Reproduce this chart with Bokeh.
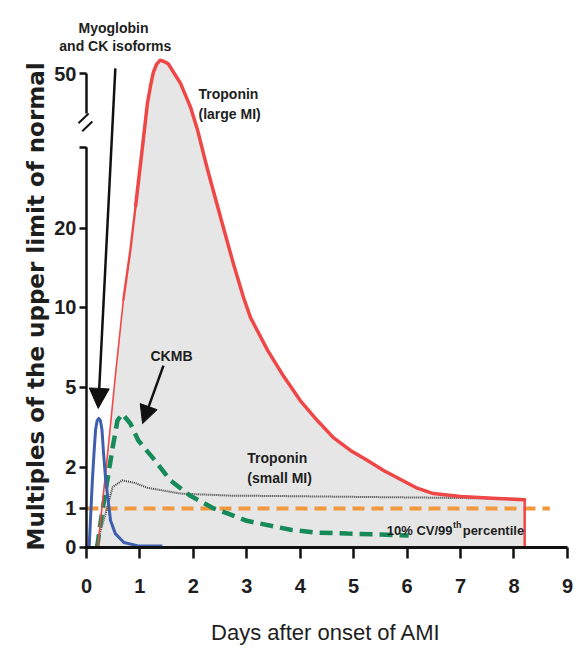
import numpy as np
from bokeh.plotting import figure
from bokeh.models import FixedTicker, Label, Arrow, NormalHead
from bokeh.embed import file_html
from bokeh.resources import INLINE

# ---- broken, non-linear y axis: value -> drawing position ----
scale_vals = [0, 1, 2, 5, 10, 20, 50, 100]
scale_pos = [0, 0.97, 2, 4, 6, 7.97, 11.84, 18.29]
y_tick_vals = [0, 1, 2, 5, 10, 20, 50]
x_ticks = [0, 1, 2, 3, 4, 5, 6, 7, 8, 9]


def ypos(v):
    return np.interp(np.asarray(v, dtype=float), scale_vals, scale_pos)


# ---- data (days after onset, multiples of upper limit of normal) ----
trop_large_days = [0.21, 0.36, 0.45, 0.54, 0.69, 0.82, 0.92, 1.04, 1.14, 1.20, 1.25, 1.31,
                   1.38, 1.46, 1.53, 1.76, 1.95, 2.08, 2.26, 2.51, 2.75, 2.94, 3.07, 3.39,
                   3.69, 4.00, 4.32, 4.62, 4.94, 5.26, 5.56, 5.88, 6.19, 6.49, 7.00, 7.69,
                   8.20]
trop_large_vals = [0.0, 1.89, 3.6, 5.7, 10.9, 17.2, 24.4, 35.1, 44.2, 47.7, 50.2, 51.8,
                   52.6, 52.3, 51.9, 48.1, 43.4, 39.0, 31.6, 22.1, 15.5, 11.2, 9.35, 7.3,
                   5.68, 4.5, 3.75, 3.11, 2.63, 2.25, 1.92, 1.70, 1.49, 1.36, 1.29, 1.24,
                   1.21]

trop_small_days = [0.17, 0.36, 0.49, 0.67, 0.90, 1.14, 1.76, 2.70, 3.60, 5.00, 6.50, 8.20]
trop_small_vals = [0.0, 0.87, 1.52, 1.68, 1.62, 1.50, 1.36, 1.31, 1.30, 1.28, 1.26, 1.23]

ckmb_days = [0.20, 0.26, 0.36, 0.49, 0.58, 0.67, 0.82, 0.97, 1.25, 1.57, 1.94, 2.38, 2.64,
             3.00, 3.60, 3.82, 4.25, 4.88, 5.50, 6.03]
ckmb_vals = [0.0, 0.61, 1.44, 2.74, 3.75, 4.0, 3.64, 3.0, 2.33, 1.68, 1.31, 1.0, 0.87,
             0.68, 0.51, 0.45, 0.38, 0.35, 0.33, 0.30]

myo_days = [0.05, 0.11, 0.14, 0.17, 0.20, 0.23, 0.26, 0.29, 0.32, 0.36, 0.45, 0.54, 0.70,
            0.95, 1.42]
myo_vals = [0.0, 1.68, 2.51, 3.4, 3.75, 3.83, 3.75, 3.4, 2.51, 1.68, 0.69, 0.35, 0.12,
            0.04, 0.03]

cutoff_days = [0.0, 8.67]
cutoff_vals = [1.0, 1.0]

SANS = "'Liberation Sans', Arial, sans-serif"
TXT = "#1e1e1e"
AX = "#111111"
RED = "#ef4646"

p = figure(width=578, height=654, x_range=(-1.609, 9.207), y_range=(-2.6825, 13.6675),
           output_backend="svg", toolbar_location=None, title=None,
           min_border_left=0, min_border_right=0, min_border_top=0, min_border_bottom=0)
p.outline_line_color = None
p.xgrid.grid_line_color = None
p.ygrid.grid_line_color = None
p.background_fill_color = "white"
p.border_fill_color = "white"

# gray area under the large-MI troponin curve
p.varea(x=trop_large_days, y1=np.zeros(len(trop_large_days)), y2=ypos(trop_large_vals),
        fill_color="#e6e6e6")

# orange cutoff line
p.line(cutoff_days, ypos(cutoff_vals), line_color="#f2973d", line_width=4, line_dash="12 7")

# small MI troponin (dotted)
p.line(trop_small_days, ypos(trop_small_vals), line_color="#3c3c3c", line_width=2,
       line_dash="1 1")

# CKMB (green dashed)
p.line(ckmb_days, ypos(ckmb_vals), line_color="#178a5a", line_width=4.5, line_dash="13 7")

# large MI troponin (red): thin rising flank, thicker remainder, drop at the end
p.line(trop_large_days[:5], ypos(trop_large_vals[:5]), line_color=RED, line_width=1.6)
p.line(trop_large_days[4:7], ypos(trop_large_vals[4:7]), line_color=RED, line_width=2.4,
       line_cap="round")
p.line(trop_large_days[6:], ypos(trop_large_vals[6:]), line_color=RED, line_width=3.5,
       line_join="round", line_cap="round")
p.line([trop_large_days[-1], trop_large_days[-1]], [float(ypos(trop_large_vals[-1])), 0],
       line_color=RED, line_width=2.5)

# myoglobin (blue)
p.line(myo_days, ypos(myo_vals), line_color="#3f5fae", line_width=3, line_join="round")

# ---- x axis (placed at y = 0) ----
xa = p.xaxis[0]
xa.fixed_location = 0
xa.bounds = (-0.03, 9)
xa.ticker = FixedTicker(ticks=x_ticks)
xa.axis_line_width = 3
xa.axis_line_color = AX
xa.major_tick_line_width = 2.5
xa.major_tick_line_color = AX
xa.major_tick_out = 11
xa.major_tick_in = 0
xa.minor_tick_line_color = None
xa.major_label_text_font = SANS
xa.major_label_text_font_style = "bold"
xa.major_label_text_font_size = "20px"
xa.major_label_text_color = TXT
xa.major_label_standoff = 21
xa.axis_label = "Days after onset of AMI"
xa.axis_label_text_font = SANS
xa.axis_label_text_font_style = "normal"
xa.axis_label_text_font_size = "22px"
xa.axis_label_text_color = TXT
xa.axis_label_standoff = 23

# ---- y axis (placed at x = 0, broken line drawn separately) ----
ya = p.yaxis[0]
ya.fixed_location = 0
tick_pos = [round(float(v), 2) for v in ypos(y_tick_vals)]
ya.ticker = FixedTicker(ticks=tick_pos + [10.0])
overrides = {t: str(v) for t, v in zip(tick_pos, y_tick_vals)}
overrides[10.0] = ""
ya.major_label_overrides = overrides
ya.axis_line_color = None
ya.major_tick_line_width = 2.5
ya.major_tick_line_color = AX
ya.major_tick_out = 7
ya.major_tick_in = 0
ya.minor_tick_line_color = None
ya.major_label_text_font = SANS
ya.major_label_text_font_style = "bold"
ya.major_label_text_font_size = "20px"
ya.major_label_text_color = TXT
ya.major_label_standoff = 3

# broken y-axis line
p.segment(x0=[0, 0], y0=[0, 10.84], x1=[0, 0], y1=[10.0, tick_pos[-1]],
          line_width=2.5, line_color=AX)
# break marks "//"
p.segment(x0=[-0.15, -0.08], y0=[10.6, 10.4], x1=[0.04, 0.11], y1=[10.84, 10.64],
          line_width=2, line_color=AX)

# y axis title
p.add_layout(Label(x=-0.95, y=6.02, text="Multiples of the upper limit of normal",
                   angle=np.pi / 2, text_align="center", text_baseline="middle",
                   text_font="'DejaVu Sans', sans-serif", text_font_style="bold",
                   text_font_size="23px", text_color=TXT))

# arrows
p.add_layout(Arrow(end=NormalHead(size=20, fill_color=AX, line_color=AX),
                   x_start=0.54, y_start=11.97, x_end=0.22, y_end=3.47,
                   line_width=2.5, line_color=AX))
p.add_layout(Arrow(end=NormalHead(size=18, fill_color=AX, line_color=AX),
                   x_start=1.44, y_start=4.54, x_end=1.05, y_end=3.09,
                   line_width=2.5, line_color=AX))


def txt(x, y, s, size="14px", align="left", style="bold"):
    p.add_layout(Label(x=x, y=y, text=s, text_align=align, text_baseline="alphabetic",
                       text_font=SANS, text_font_style=style, text_font_size=size,
                       text_color=TXT))


txt(0.505, 12.99, "Myoglobin", align="center")
txt(0.54, 12.54, "and CK isoforms", align="center")
txt(2.096, 11.34, "Troponin")
txt(2.096, 10.82, "(large MI)")
txt(1.198, 4.79, "CKMB")
txt(3.01, 2.22, "Troponin")
txt(3.01, 1.72, "(small MI)")
txt(5.62, 0.42, "10% CV/99", size="13px")
txt(6.86, 0.56, "th", size="9px")
txt(7.04, 0.42, "percentile", size="13px")

open("out.html", "w").write(file_html(p, INLINE))
